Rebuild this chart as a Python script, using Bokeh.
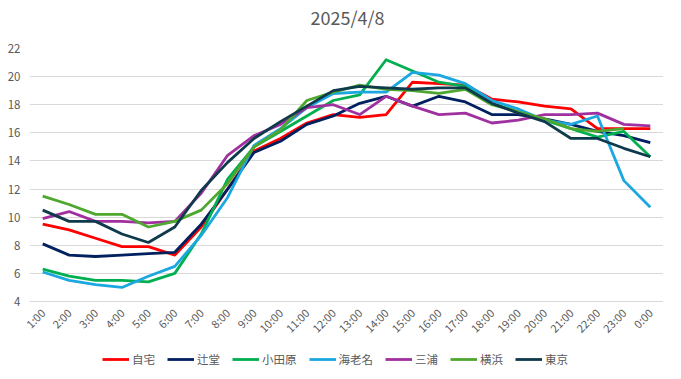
import math
from bokeh.plotting import figure
from bokeh.layouts import column
from bokeh.models import Legend, LegendItem, FactorRange, Range1d, FixedTicker, Label
from bokeh.embed import file_html
from bokeh.resources import INLINE

title_text = "2025/4/8"
hours = ["1:00", "2:00", "3:00", "4:00", "5:00", "6:00", "7:00", "8:00", "9:00", "10:00",
         "11:00", "12:00", "13:00", "14:00", "15:00", "16:00", "17:00", "18:00", "19:00",
         "20:00", "21:00", "22:00", "23:00", "0:00"]

jitaku = [9.5, 9.1, 8.5, 7.9, 7.9, 7.3, 9.3, 12.0, 14.7, 15.6, 16.7, 17.3, 17.1, 17.3,
          19.6, 19.5, 19.4, 18.4, 18.2, 17.9, 17.7, 16.3, 16.3, 16.3]
tsujido = [8.1, 7.3, 7.2, 7.3, 7.4, 7.5, 9.5, 12.0, 14.6, 15.4, 16.6, 17.2, 18.1, 18.6,
           17.9, 18.6, 18.2, 17.3, 17.3, 17.0, 16.6, 16.1, 15.8, 15.3]
odawara = [6.3, 5.8, 5.5, 5.5, 5.4, 6.0, 8.8, 12.7, 15.0, 16.1, 17.2, 18.3, 18.7, 21.2,
           20.4, 19.6, 19.3, 18.1, 17.5, 16.9, 16.3, 15.7, 16.1, 14.3]
ebina = [6.1, 5.5, 5.2, 5.0, 5.8, 6.5, 8.7, 11.4, 15.1, 16.3, 17.8, 18.8, 18.9, 18.9,
         20.3, 20.1, 19.5, 18.3, 17.7, 16.9, 16.6, 17.2, 12.6, 10.7]
miura = [9.9, 10.4, 9.7, 9.7, 9.6, 9.7, 11.7, 14.4, 15.8, 16.6, 17.8, 18.0, 17.3, 18.6,
         17.9, 17.3, 17.4, 16.7, 16.9, 17.3, 17.3, 17.4, 16.6, 16.5]
yokohama = [11.5, 10.9, 10.2, 10.2, 9.3, 9.7, 10.5, 12.4, 15.0, 16.2, 18.3, 18.9, 19.4, 19.1,
            19.0, 18.8, 19.1, 18.0, 17.5, 17.0, 16.3, 16.1, 16.3, float("nan")]
tokyo = [10.5, 9.7, 9.7, 8.8, 8.2, 9.3, 11.9, 13.9, 15.6, 16.8, 17.9, 19.0, 19.3, 19.2,
         19.1, 19.2, 19.2, 18.1, 17.4, 16.8, 15.6, 15.6, 14.9, 14.3]

names = ["自宅", "辻堂", "小田原", "海老名", "三浦", "横浜", "東京"]
series = [jitaku, tsujido, odawara, ebina, miura, yokohama, tokyo]
colors = ["#FF0000", "#002060", "#00B050", "#1BA7E0", "#A0309F", "#4EA72E", "#0E3A4C"]
y_ticks = [4, 6, 8, 10, 12, 14, 16, 18, 20, 22]

FONT = "Noto Sans CJK JP"
GRAY = "#595959"
W = 663


def strip(h):
    f = figure(width=W, height=h, x_range=Range1d(0, 1), y_range=Range1d(0, 1),
               output_backend="svg", toolbar_location=None,
               x_axis_location=None, y_axis_location=None, min_border=0)
    f.outline_line_color = None
    f.xgrid.grid_line_color = None
    f.ygrid.grid_line_color = None
    return f


# title strip
pt = strip(40)
pt.add_layout(Label(x=0.5, y=24, x_units="data", y_units="screen", x_offset=1,
                    text=title_text, text_align="center", text_baseline="middle",
                    text_font=FONT, text_font_size="18px", text_color=GRAY))

# main chart
p = figure(frame_width=634, frame_height=253,
           x_range=FactorRange(factors=hours, range_padding=0),
           y_range=Range1d(4, 22),
           output_backend="svg", toolbar_location=None,
           min_border_left=29, min_border_right=0,
           min_border_top=8, min_border_bottom=44)
p.outline_line_color = None

for name, vals, col in zip(names, series, colors):
    p.line(x=hours, y=vals, line_color=col, line_width=2.8, line_join="round")

p.xgrid.grid_line_color = None
p.ygrid.grid_line_color = "#D9D9D9"
p.ygrid.grid_line_width = 1

p.yaxis.ticker = FixedTicker(ticks=y_ticks)
p.yaxis.axis_line_color = None
p.yaxis.major_tick_line_color = None
p.yaxis.minor_tick_line_color = None
p.yaxis.major_label_standoff = 3
p.yaxis.major_label_text_font = FONT
p.yaxis.major_label_text_font_size = "11.5px"
p.yaxis.major_label_text_color = GRAY

p.xaxis.axis_line_color = "#D9D9D9"
p.xaxis.major_tick_line_color = None
p.xaxis.minor_tick_line_color = None
p.xaxis.major_label_orientation = math.pi / 4
p.xaxis.major_label_standoff = 3
p.xaxis.major_label_text_font = FONT
p.xaxis.major_label_text_font_size = "11px"
p.xaxis.major_label_text_color = GRAY

# legend strip below the chart
pl = strip(22)
items = []
for name, col in zip(names, colors):
    # legend key only: line kept outside the visible range of this strip
    r = pl.line(x=[5, 6], y=[5, 6], line_color=col, line_width=2.8)
    items.append(LegendItem(label=name, renderers=[r]))
legend = Legend(items=items, orientation="horizontal", location=(73, 0),
                label_text_font=FONT, label_text_font_size="11.5px",
                label_text_color=GRAY, glyph_width=27, glyph_height=10,
                label_standoff=3, spacing=12, padding=0, margin=0,
                border_line_color=None, background_fill_alpha=0)
pl.add_layout(legend, "center")

layout = column(pt, p, pl, spacing=0)
open("out.html", "w").write(file_html(layout, INLINE))
